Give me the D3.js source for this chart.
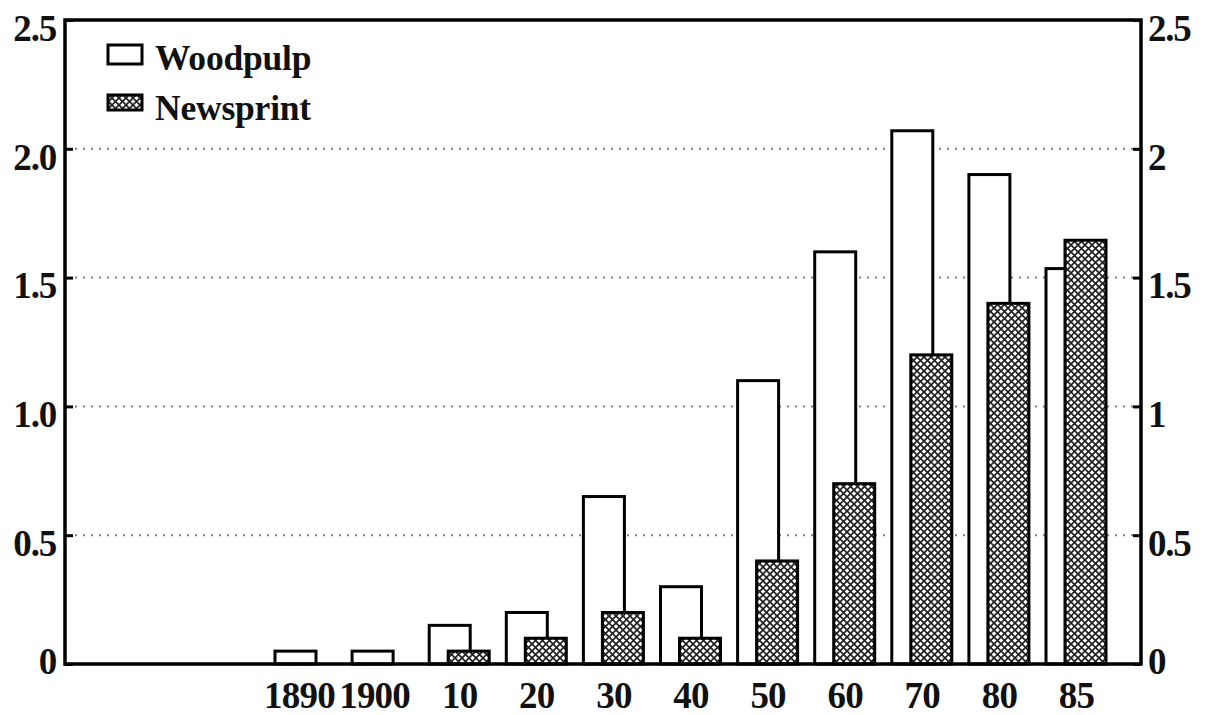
<!DOCTYPE html>
<html><head><meta charset="utf-8">
<script src="https://cdn.jsdelivr.net/npm/d3@7"></script>
<style>
body{margin:0;background:#fff;}
svg text{font-family:"Liberation Serif","Times New Roman",serif;font-weight:bold;fill:#111;}
</style></head>
<body><svg id="c" width="1206" height="715"></svg>
<script>
const categories = ["1890","1900","10","20","30","40","50","60","70","80","85"];
const woodpulp   = [0.05, 0.05, 0.15, 0.20, 0.65, 0.30, 1.10, 1.60, 2.07, 1.90, 1.535];
const newsprint  = [0,    0,    0.05, 0.10, 0.20, 0.10, 0.40, 0.70, 1.20, 1.40, 1.645];
const leftTicks  = [0, 0.5, 1.0, 1.5, 2.0, 2.5];
const leftLabels = ["0","0.5","1.0","1.5","2.0","2.5"];
const rightLabels= ["0","0.5","1","1.5","2","2.5"];
const gridValues = [0.5, 1.0, 1.5, 2.0];
const seriesNames = ["Woodpulp","Newsprint"];

const svg = d3.select("#c");
const L = 65, R = 1141, T = 20, B = 664;
const y = d3.scaleLinear().domain([0, 2.5]).range([B, T]);
const x = d3.scalePoint().domain(categories).range([305, 1076]);
const bw = 41, off = 19;

const defs = svg.append("defs");
const pat = defs.append("pattern").attr("id","hatch").attr("patternUnits","userSpaceOnUse")
  .attr("width",7).attr("height",7);
pat.append("rect").attr("width",7).attr("height",7).attr("fill","#fff");
pat.append("path").attr("d","M-1,-1 L8,8 M8,-1 L-1,8").attr("stroke","#222").attr("stroke-width",1.7);

// gridlines
svg.append("g").selectAll("line").data(gridValues).join("line")
  .attr("x1", L+10).attr("x2", R-8).attr("y1", d=>y(d)).attr("y2", d=>y(d))
  .attr("stroke","#808080").attr("stroke-width",2).attr("stroke-dasharray","2,6");

// bars
const g = svg.append("g");
g.selectAll("rect.w").data(categories).join("rect").attr("class","w")
  .attr("x", d=>x(d)-30).attr("width", bw)
  .attr("y", (d,i)=>y(woodpulp[i])).attr("height",(d,i)=>y(0)-y(woodpulp[i]))
  .attr("fill","#fff").attr("stroke","#000").attr("stroke-width",3);
g.selectAll("rect.n").data(categories.filter((d,i)=>newsprint[i]>0)).join("rect").attr("class","n")
  .attr("x", d=>x(d)-30+off).attr("width", bw)
  .attr("y", d=>y(newsprint[categories.indexOf(d)]))
  .attr("height", d=>y(0)-y(newsprint[categories.indexOf(d)]))
  .attr("fill","url(#hatch)").attr("stroke","#000").attr("stroke-width",3);

// frame
svg.append("path").attr("d",`M${L},${B} L${L},${T} L${R},${T} L${R},${B} Z`)
  .attr("fill","none").attr("stroke","#000").attr("stroke-width",3.5);

// axes
const la = d3.axisLeft(y).tickValues(leftTicks).tickSize(-8).tickPadding(12)
  .tickFormat((d,i)=>leftLabels[i]);
const lg = svg.append("g").attr("transform",`translate(${L},0)`).call(la);
const ra = d3.axisRight(y).tickValues(leftTicks).tickSize(-8).tickPadding(14)
  .tickFormat((d,i)=>rightLabels[i]);
const rg = svg.append("g").attr("transform",`translate(${R},0)`).call(ra);
[lg, rg].forEach(ax=>{
  ax.select(".domain").remove();
  ax.selectAll(".tick line").attr("stroke","#000").attr("stroke-width",3);
  ax.selectAll(".tick text").attr("font-size",37).attr("letter-spacing",-1.2)
    .attr("fill","#111").attr("font-family","Liberation Serif, serif").attr("font-weight","bold")
    .attr("dy", d=> d===0 ? "0.25em" : "0.55em");
});
lg.selectAll(".tick text").attr("x",-9);
rg.selectAll(".tick text").attr("x",7);

const ba = d3.axisBottom(x).tickSize(0).tickPadding(0);
const bg = svg.append("g").attr("transform",`translate(0,${B})`).call(ba);
bg.select(".domain").remove();
bg.selectAll(".tick text").attr("y",44).attr("dy",0).attr("font-size",37).attr("letter-spacing",-0.8)
  .attr("fill","#111").attr("font-family","Liberation Serif, serif").attr("font-weight","bold")
  .attr("dx", d=> d==="1890" ? -6 : d==="1900" ? -8 : 0);

// legend
const leg = svg.append("g");
seriesNames.forEach((name,i)=>{
  const yy = 45 + i*50;
  leg.append("rect").attr("x",108).attr("y",yy).attr("width",34).attr("height",i===0?19:15)
    .attr("fill", i===0?"#fff":"url(#hatch)").attr("stroke","#000").attr("stroke-width",3);
  leg.append("text").attr("x",155).attr("y",yy+25).attr("font-size",35.5).attr("letter-spacing",-0.2).text(name);
});
</script></body></html>
